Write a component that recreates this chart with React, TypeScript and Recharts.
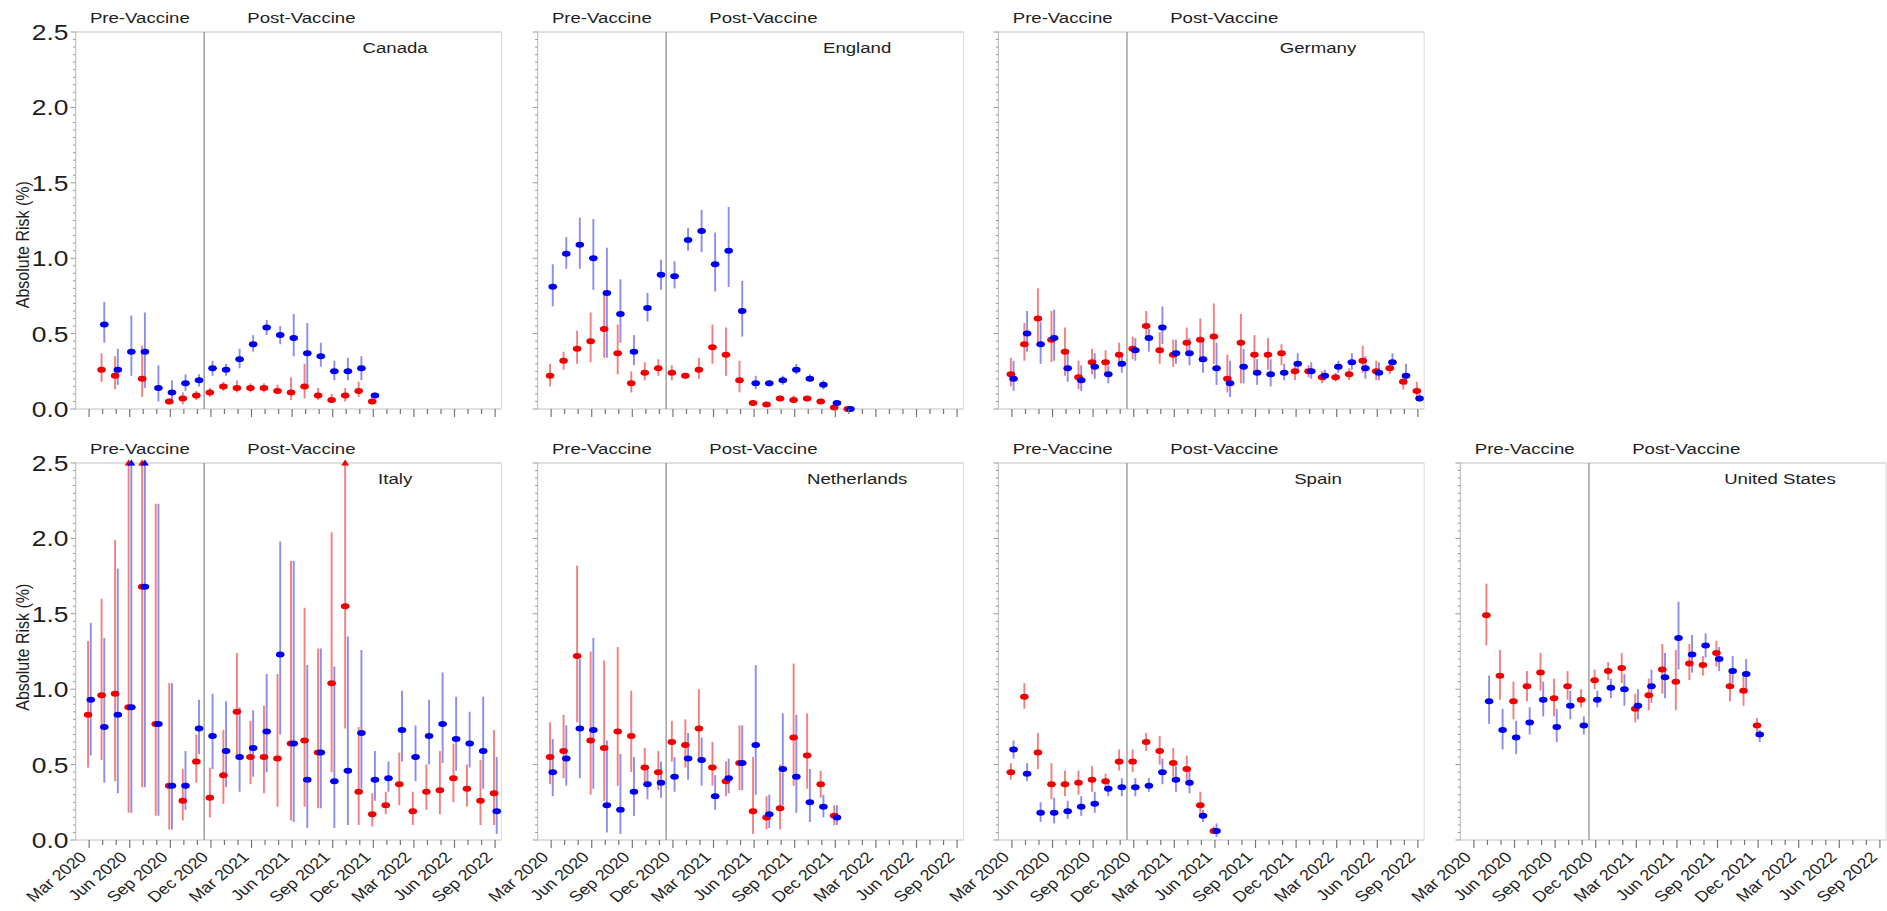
import React from "react";
import { ScatterChart, Scatter, XAxis, YAxis, ErrorBar, ReferenceLine, ReferenceArea } from "recharts";

// [month index from Mar 2020, estimate, lower, upper] in %
type Row = [number, number, number, number];

const monthLabels = ["Mar 2020", "Jun 2020", "Sep 2020", "Dec 2020", "Mar 2021", "Jun 2021", "Sep 2021", "Dec 2021", "Mar 2022", "Jun 2022", "Sep 2022"];
const monthTicks = Array.from({ length: 31 }, (_, i) => i);
const yLabels = ["0.0", "0.5", "1.0", "1.5", "2.0", "2.5"];
const yTicks = Array.from({ length: 51 }, (_, i) => Math.round(i * 5) / 100);

const canadaRed: Row[] = [[1, 0.26, 0.18, 0.37], [2, 0.22, 0.13, 0.35], [4, 0.2, 0.08, 0.42], [6, 0.05, 0.03, 0.07], [7, 0.07, 0.03, 0.11], [8, 0.09, 0.06, 0.12], [9, 0.11, 0.08, 0.14], [10, 0.15, 0.12, 0.18], [11, 0.14, 0.11, 0.19], [12, 0.14, 0.11, 0.17], [13, 0.14, 0.11, 0.17], [14, 0.12, 0.1, 0.16], [15, 0.11, 0.06, 0.21], [16, 0.15, 0.07, 0.3], [17, 0.09, 0.06, 0.14], [18, 0.06, 0.04, 0.1], [19, 0.09, 0.05, 0.14], [20, 0.12, 0.08, 0.18], [21, 0.05, 0.03, 0.07]];
const canadaBlue: Row[] = [[1, 0.56, 0.44, 0.71], [2, 0.26, 0.16, 0.4], [3, 0.38, 0.22, 0.62], [4, 0.38, 0.14, 0.64], [5, 0.14, 0.05, 0.29], [6, 0.11, 0.04, 0.19], [7, 0.17, 0.12, 0.23], [8, 0.19, 0.15, 0.23], [9, 0.27, 0.22, 0.32], [10, 0.26, 0.22, 0.3], [11, 0.33, 0.27, 0.4], [12, 0.43, 0.38, 0.49], [13, 0.54, 0.49, 0.59], [14, 0.49, 0.43, 0.55], [15, 0.47, 0.35, 0.63], [16, 0.37, 0.16, 0.57], [17, 0.35, 0.28, 0.44], [18, 0.25, 0.19, 0.32], [19, 0.25, 0.19, 0.34], [20, 0.27, 0.19, 0.35], [21, 0.09, 0.07, 0.11]];

const englandRed: Row[] = [[0, 0.22, 0.15, 0.3], [1, 0.32, 0.26, 0.38], [2, 0.4, 0.3, 0.52], [3, 0.45, 0.31, 0.64], [4, 0.53, 0.34, 0.77], [5, 0.37, 0.23, 0.56], [6, 0.17, 0.11, 0.25], [7, 0.24, 0.19, 0.31], [8, 0.27, 0.22, 0.33], [9, 0.24, 0.19, 0.29], [10, 0.22, 0.2, 0.24], [11, 0.26, 0.2, 0.34], [12, 0.41, 0.3, 0.56], [13, 0.36, 0.22, 0.54], [14, 0.19, 0.11, 0.32], [15, 0.04, 0.02, 0.06], [16, 0.03, 0.02, 0.04], [17, 0.07, 0.05, 0.09], [18, 0.06, 0.04, 0.09], [19, 0.07, 0.05, 0.08], [20, 0.05, 0.04, 0.07], [21, 0.01, 0.0, 0.02], [22, 0.0, 0.0, 0.01]];
const englandBlue: Row[] = [[0, 0.81, 0.68, 0.96], [1, 1.03, 0.93, 1.14], [2, 1.09, 0.93, 1.27], [3, 1.0, 0.79, 1.26], [4, 0.77, 0.34, 1.07], [5, 0.63, 0.44, 0.86], [6, 0.38, 0.29, 0.49], [7, 0.67, 0.58, 0.77], [8, 0.89, 0.79, 0.99], [9, 0.88, 0.8, 0.98], [10, 1.12, 1.05, 1.2], [11, 1.18, 1.04, 1.32], [12, 0.96, 0.78, 1.17], [13, 1.05, 0.81, 1.34], [14, 0.65, 0.48, 0.85], [15, 0.17, 0.13, 0.22], [16, 0.17, 0.15, 0.19], [17, 0.19, 0.16, 0.22], [18, 0.26, 0.23, 0.3], [19, 0.2, 0.18, 0.23], [20, 0.16, 0.13, 0.19], [21, 0.04, 0.02, 0.06], [22, 0.0, 0.0, 0.01]];

const germanyRed: Row[] = [[0, 0.23, 0.15, 0.34], [1, 0.43, 0.32, 0.57], [2, 0.6, 0.43, 0.8], [3, 0.46, 0.31, 0.65], [4, 0.38, 0.22, 0.54], [5, 0.21, 0.13, 0.32], [6, 0.31, 0.23, 0.4], [7, 0.31, 0.22, 0.39], [8, 0.36, 0.28, 0.44], [9, 0.4, 0.33, 0.48], [10, 0.55, 0.46, 0.65], [11, 0.39, 0.3, 0.51], [12, 0.36, 0.28, 0.46], [13, 0.44, 0.35, 0.54], [14, 0.46, 0.31, 0.6], [15, 0.48, 0.3, 0.7], [16, 0.2, 0.11, 0.36], [17, 0.44, 0.17, 0.63], [18, 0.36, 0.25, 0.49], [19, 0.36, 0.26, 0.47], [20, 0.37, 0.29, 0.43], [21, 0.25, 0.19, 0.31], [22, 0.25, 0.21, 0.29], [23, 0.21, 0.17, 0.25], [24, 0.21, 0.18, 0.24], [25, 0.23, 0.19, 0.27], [26, 0.32, 0.24, 0.42], [27, 0.25, 0.19, 0.32], [28, 0.27, 0.23, 0.32], [29, 0.18, 0.13, 0.23], [30, 0.12, 0.07, 0.18]];
const germanyBlue: Row[] = [[0, 0.2, 0.12, 0.32], [1, 0.5, 0.38, 0.65], [2, 0.43, 0.3, 0.58], [3, 0.47, 0.32, 0.66], [4, 0.27, 0.18, 0.37], [5, 0.19, 0.12, 0.29], [6, 0.28, 0.2, 0.37], [7, 0.23, 0.17, 0.29], [8, 0.3, 0.24, 0.36], [9, 0.39, 0.32, 0.47], [10, 0.47, 0.38, 0.53], [11, 0.54, 0.43, 0.68], [12, 0.37, 0.3, 0.46], [13, 0.37, 0.29, 0.47], [14, 0.33, 0.24, 0.46], [15, 0.27, 0.16, 0.44], [16, 0.17, 0.08, 0.32], [17, 0.28, 0.17, 0.4], [18, 0.24, 0.16, 0.33], [19, 0.23, 0.15, 0.33], [20, 0.24, 0.19, 0.3], [21, 0.3, 0.24, 0.37], [22, 0.25, 0.2, 0.31], [23, 0.22, 0.19, 0.26], [24, 0.28, 0.24, 0.32], [25, 0.31, 0.26, 0.37], [26, 0.27, 0.2, 0.35], [27, 0.24, 0.19, 0.31], [28, 0.31, 0.26, 0.37], [29, 0.22, 0.16, 0.3], [30, 0.07, 0.05, 0.1]];

const italyRed: Row[] = [[0, 0.83, 0.48, 1.32], [1, 0.96, 0.53, 1.6], [2, 0.97, 0.39, 1.99], [3, 0.88, 0.18, 2.5], [4, 1.68, 0.35, 2.5], [5, 0.77, 0.16, 2.23], [6, 0.36, 0.07, 1.04], [7, 0.26, 0.13, 0.47], [8, 0.52, 0.38, 0.7], [9, 0.28, 0.15, 0.48], [10, 0.43, 0.24, 0.73], [11, 0.85, 0.55, 1.24], [12, 0.55, 0.37, 0.79], [13, 0.55, 0.31, 0.89], [14, 0.54, 0.22, 1.1], [15, 0.64, 0.13, 1.85], [16, 0.66, 0.22, 1.54], [17, 0.58, 0.21, 1.27], [18, 1.04, 0.45, 2.04], [19, 1.55, 0.74, 2.5], [20, 0.32, 0.1, 0.75], [21, 0.17, 0.09, 0.31], [22, 0.23, 0.17, 0.32], [23, 0.37, 0.23, 0.58], [24, 0.19, 0.1, 0.32], [25, 0.32, 0.2, 0.5], [26, 0.33, 0.17, 0.59], [27, 0.41, 0.25, 0.64], [28, 0.34, 0.22, 0.5], [29, 0.26, 0.1, 0.53], [30, 0.31, 0.1, 0.73]];
const italyBlue: Row[] = [[0, 0.93, 0.56, 1.44], [1, 0.75, 0.38, 1.34], [2, 0.83, 0.31, 1.8], [3, 0.88, 0.18, 2.5], [4, 1.68, 0.35, 2.5], [5, 0.77, 0.16, 2.23], [6, 0.36, 0.07, 1.04], [7, 0.36, 0.2, 0.59], [8, 0.74, 0.57, 0.93], [9, 0.69, 0.47, 0.97], [10, 0.59, 0.35, 0.92], [11, 0.55, 0.32, 0.88], [12, 0.61, 0.42, 0.86], [13, 0.72, 0.45, 1.1], [14, 1.23, 0.7, 1.98], [15, 0.64, 0.12, 1.85], [16, 0.4, 0.08, 1.16], [17, 0.58, 0.21, 1.27], [18, 0.39, 0.08, 1.15], [19, 0.46, 0.1, 1.35], [20, 0.71, 0.34, 1.26], [21, 0.4, 0.26, 0.59], [22, 0.41, 0.32, 0.52], [23, 0.73, 0.52, 0.99], [24, 0.55, 0.39, 0.76], [25, 0.69, 0.5, 0.93], [26, 0.77, 0.51, 1.11], [27, 0.67, 0.46, 0.95], [28, 0.64, 0.48, 0.85], [29, 0.59, 0.34, 0.95], [30, 0.19, 0.04, 0.55]];

const netherlandsRed: Row[] = [[0, 0.55, 0.37, 0.78], [1, 0.59, 0.41, 0.83], [2, 1.22, 0.78, 1.82], [3, 0.66, 0.3, 1.25], [4, 0.61, 0.26, 1.19], [5, 0.72, 0.36, 1.28], [6, 0.69, 0.45, 0.99], [7, 0.48, 0.38, 0.61], [8, 0.45, 0.33, 0.59], [9, 0.65, 0.52, 0.79], [10, 0.63, 0.48, 0.8], [11, 0.74, 0.54, 1.0], [12, 0.48, 0.36, 0.65], [13, 0.39, 0.29, 0.52], [14, 0.51, 0.33, 0.76], [15, 0.19, 0.04, 0.55], [16, 0.15, 0.07, 0.29], [17, 0.21, 0.07, 0.5], [18, 0.68, 0.36, 1.17], [19, 0.56, 0.34, 0.84], [20, 0.37, 0.28, 0.46], [21, 0.16, 0.1, 0.23]];
const netherlandsBlue: Row[] = [[0, 0.45, 0.29, 0.67], [1, 0.54, 0.36, 0.76], [2, 0.74, 0.41, 1.2], [3, 0.73, 0.34, 1.34], [4, 0.23, 0.05, 0.66], [5, 0.2, 0.04, 0.57], [6, 0.32, 0.16, 0.55], [7, 0.37, 0.27, 0.47], [8, 0.38, 0.28, 0.52], [9, 0.42, 0.32, 0.55], [10, 0.54, 0.4, 0.71], [11, 0.53, 0.36, 0.68], [12, 0.29, 0.2, 0.43], [13, 0.41, 0.31, 0.54], [14, 0.51, 0.33, 0.76], [15, 0.63, 0.3, 1.16], [16, 0.17, 0.08, 0.3], [17, 0.47, 0.23, 0.84], [18, 0.42, 0.18, 0.83], [19, 0.25, 0.12, 0.47], [20, 0.22, 0.15, 0.3], [21, 0.15, 0.1, 0.23]];

const spainRed: Row[] = [[0, 0.45, 0.4, 0.51], [1, 0.95, 0.87, 1.04], [2, 0.58, 0.47, 0.71], [3, 0.37, 0.27, 0.51], [4, 0.37, 0.29, 0.46], [5, 0.38, 0.3, 0.46], [6, 0.4, 0.32, 0.49], [7, 0.39, 0.35, 0.44], [8, 0.52, 0.46, 0.6], [9, 0.52, 0.45, 0.6], [10, 0.65, 0.59, 0.71], [11, 0.59, 0.5, 0.69], [12, 0.51, 0.42, 0.61], [13, 0.47, 0.4, 0.56], [14, 0.23, 0.17, 0.32], [15, 0.06, 0.04, 0.09]];
const spainBlue: Row[] = [[0, 0.6, 0.54, 0.66], [1, 0.44, 0.39, 0.51], [2, 0.18, 0.12, 0.25], [3, 0.18, 0.11, 0.28], [4, 0.19, 0.14, 0.26], [5, 0.22, 0.16, 0.29], [6, 0.24, 0.18, 0.32], [7, 0.34, 0.29, 0.38], [8, 0.35, 0.29, 0.41], [9, 0.35, 0.29, 0.41], [10, 0.36, 0.32, 0.41], [11, 0.45, 0.37, 0.54], [12, 0.4, 0.32, 0.49], [13, 0.38, 0.31, 0.47], [14, 0.16, 0.12, 0.2], [15, 0.06, 0.02, 0.11]];

const usRed: Row[] = [[1, 1.49, 1.29, 1.7], [2, 1.09, 0.93, 1.26], [3, 0.92, 0.8, 1.05], [4, 1.02, 0.92, 1.12], [5, 1.11, 0.99, 1.24], [6, 0.94, 0.82, 1.07], [7, 1.02, 0.93, 1.12], [8, 0.93, 0.88, 1.0], [9, 1.06, 1.0, 1.13], [10, 1.12, 1.06, 1.18], [11, 1.14, 1.04, 1.24], [12, 0.87, 0.78, 0.97], [13, 0.96, 0.86, 1.07], [14, 1.13, 0.97, 1.3], [15, 1.05, 0.86, 1.26], [16, 1.17, 1.06, 1.3], [17, 1.16, 1.09, 1.22], [18, 1.24, 1.15, 1.32], [19, 1.02, 0.92, 1.13], [20, 0.99, 0.89, 1.09], [21, 0.76, 0.71, 0.81]];
const usBlue: Row[] = [[1, 0.92, 0.77, 1.09], [2, 0.73, 0.6, 0.87], [3, 0.68, 0.57, 0.79], [4, 0.78, 0.7, 0.88], [5, 0.93, 0.82, 1.05], [6, 0.75, 0.65, 0.87], [7, 0.89, 0.8, 0.99], [8, 0.76, 0.7, 0.82], [9, 0.93, 0.88, 0.99], [10, 1.01, 0.94, 1.07], [11, 1.0, 0.89, 1.1], [12, 0.89, 0.8, 1.0], [13, 1.02, 0.91, 1.13], [14, 1.08, 0.94, 1.24], [15, 1.34, 1.13, 1.58], [16, 1.23, 1.11, 1.36], [17, 1.29, 1.21, 1.37], [18, 1.2, 1.12, 1.28], [19, 1.12, 1.04, 1.22], [20, 1.1, 1.0, 1.2], [21, 0.7, 0.65, 0.73]];

const panels = [
  { name: "Canada", row: 0, col: 0, red: canadaRed, blue: canadaBlue },
  { name: "England", row: 0, col: 1, red: englandRed, blue: englandBlue },
  { name: "Germany", row: 0, col: 2, red: germanyRed, blue: germanyBlue },
  { name: "Italy", row: 1, col: 0, red: italyRed, blue: italyBlue },
  { name: "Netherlands", row: 1, col: 1, red: netherlandsRed, blue: netherlandsBlue },
  { name: "Spain", row: 1, col: 2, red: spainRed, blue: spainBlue },
  { name: "United States", row: 1, col: 3, red: usRed, blue: usBlue },
];

// the source figure is stretched sideways, so everything is drawn narrow and scaled in x
const S = 1.2;
const PLOT_W = 355;
const PLOT_H = 377;
const Y_W = 62;
const TOP = 32;
const X_MIN = -1;
const X_MAX = 30.48;
const VACCINE = 8.5;
const colLeft = [75.5, 537, 998, 1460];
const rowTop = [32.3, 463.3];
const titleY = [244.7, 216.2];

const RED = "#f00000";
const BLUE = "#0000f0";
const RED_BAR = "rgba(235,0,0,0.5)";
const BLUE_BAR = "rgba(0,0,225,0.45)";
const FONT = "'Liberation Sans', Arial, sans-serif";
const INK = "#1e1e1e";

const toPoints = (rows: Row[], shift: number) =>
  rows.map(([m, est, lo, hi]) => ({ x: m + shift, y: est, err: [est - lo, Math.min(hi, 2.5) - est] }));

const capped = (rows: Row[], shift: number) =>
  rows.filter((r) => r[3] >= 2.5).map(([m]) => ({ x: m + shift, y: 2.5 }));

const dot = (color: string) => (props: any) => (
  <ellipse cx={props.cx} cy={props.cy} rx={3.6} ry={3} fill={color} />
);

const tri = (color: string) => (props: any) => (
  <path d={`M${props.cx},${props.cy - 3.5} L${props.cx + 3.3},${props.cy + 2.6} L${props.cx - 3.3},${props.cy + 2.6} Z`} fill={color} />
);

function XTick(props: any) {
  const { x, y, payload, showLabels } = props;
  const v = payload.value;
  const major = v % 3 === 0;
  const ax = x - 1.3;
  const ay = y + 18;
  return (
    <g>
      <line x1={x} x2={x} y1={y} y2={y + (major ? 8 : 5)} stroke="#777" strokeWidth={1} />
      {showLabels && major && (
        <text x={ax} y={ay} transform={`rotate(-45 ${ax} ${ay})`} textAnchor="end" fontSize={15} fontFamily={FONT} fill={INK}>
          {monthLabels[v / 3]}
        </text>
      )}
    </g>
  );
}

function YTick(props: any) {
  const { x, y, payload, showLabels } = props;
  const i = Math.round(payload.value * 20);
  const major = i % 10 === 0;
  return (
    <g>
      <line x1={x} x2={x - (major ? 4.2 : 2.1)} y1={y} y2={y} stroke="#999" strokeWidth={1} />
      {showLabels && major && (
        <text x={x - 6} y={y} dy="0.36em" textAnchor="end" fontSize={22} fontFamily={FONT} fill={INK}>
          {yLabels[i / 10]}
        </text>
      )}
    </g>
  );
}

function Panel({ name, row, col, red, blue }: { name: string; row: number; col: number; red: Row[]; blue: Row[] }) {
  const xh = row === 1 ? 80 : 20;
  const lineX = Y_W + ((VACCINE - X_MIN) / (X_MAX - X_MIN)) * PLOT_W;
  const labels = (p: any) => {
    const lx = p && p.viewBox && typeof p.viewBox.x === "number" ? p.viewBox.x : lineX;
    return (
      <g fontFamily={FONT} fill={INK}>
        <text x={(Y_W + lx) / 2} y={TOP - 15} dy="0.36em" textAnchor="middle" fontSize={15.5}>Pre-Vaccine</text>
        <text x={lx + 36} y={TOP - 15} dy="0.36em" textAnchor="start" fontSize={15.5}>Post-Vaccine</text>
        <text x={Y_W + 266.3} y={TOP + 15} dy="0.36em" textAnchor="middle" fontSize={15.5}>{name}</text>
        {col === 0 && (
          <text x={17} y={titleY[row]} dy="0.36em" textAnchor="middle" fontSize={16} transform={`rotate(-90 17 ${titleY[row]})`}>
            Absolute Risk (%)
          </text>
        )}
      </g>
    );
  };

  return (
    <div style={{ position: "absolute", left: colLeft[col] / S - Y_W, top: rowTop[row] - TOP }}>
      <ScatterChart width={Y_W + PLOT_W} height={TOP + PLOT_H + xh} margin={{ top: TOP, right: 0, bottom: 0, left: 0 }}>
        <XAxis
          type="number"
          dataKey="x"
          domain={[X_MIN, X_MAX]}
          ticks={monthTicks}
          interval={0}
          tickSize={0}
          tickMargin={0}
          tickLine={false}
          axisLine={false}
          height={xh}
          tick={(p: any) => <XTick {...p} showLabels={row === 1} />}
        />
        <YAxis
          type="number"
          dataKey="y"
          domain={[0, 2.5]}
          ticks={yTicks}
          interval={0}
          tickSize={0}
          tickMargin={0}
          tickLine={false}
          axisLine={false}
          width={Y_W}
          tick={(p: any) => <YTick {...p} showLabels={col === 0} />}
        />
        <ReferenceArea x1={X_MIN} x2={X_MAX} y1={0} y2={2.5} fill="none" fillOpacity={0} stroke="#c2c2c2" strokeWidth={1} ifOverflow="visible" />
        <ReferenceLine x={VACCINE} stroke="#9c9c9c" strokeWidth={1.2} ifOverflow="visible" label={{ content: labels }} />
        <Scatter data={toPoints(red, -0.08)} shape={dot(RED)} isAnimationActive={false}>
          <ErrorBar dataKey="err" direction="y" width={0} stroke={RED_BAR} strokeWidth={1.6} isAnimationActive={false} />
        </Scatter>
        <Scatter data={toPoints(blue, 0.12)} shape={dot(BLUE)} isAnimationActive={false}>
          <ErrorBar dataKey="err" direction="y" width={0} stroke={BLUE_BAR} strokeWidth={1.6} isAnimationActive={false} />
        </Scatter>
        <Scatter data={capped(red, -0.08)} shape={tri(RED)} isAnimationActive={false} />
        <Scatter data={capped(blue, 0.12)} shape={tri(BLUE)} isAnimationActive={false} />
      </ScatterChart>
    </div>
  );
}

export default function App() {
  return (
    <div style={{ position: "absolute", left: 0, top: 0, width: 1887, height: 911, overflow: "hidden", background: "#fff" }}>
      <div style={{ position: "absolute", left: 0, top: 0, width: 1887 / S, height: 911, transform: `scaleX(${S})`, transformOrigin: "0 0" }}>
        {panels.map((p) => (
          <Panel key={p.name} {...p} />
        ))}
      </div>
    </div>
  );
}
